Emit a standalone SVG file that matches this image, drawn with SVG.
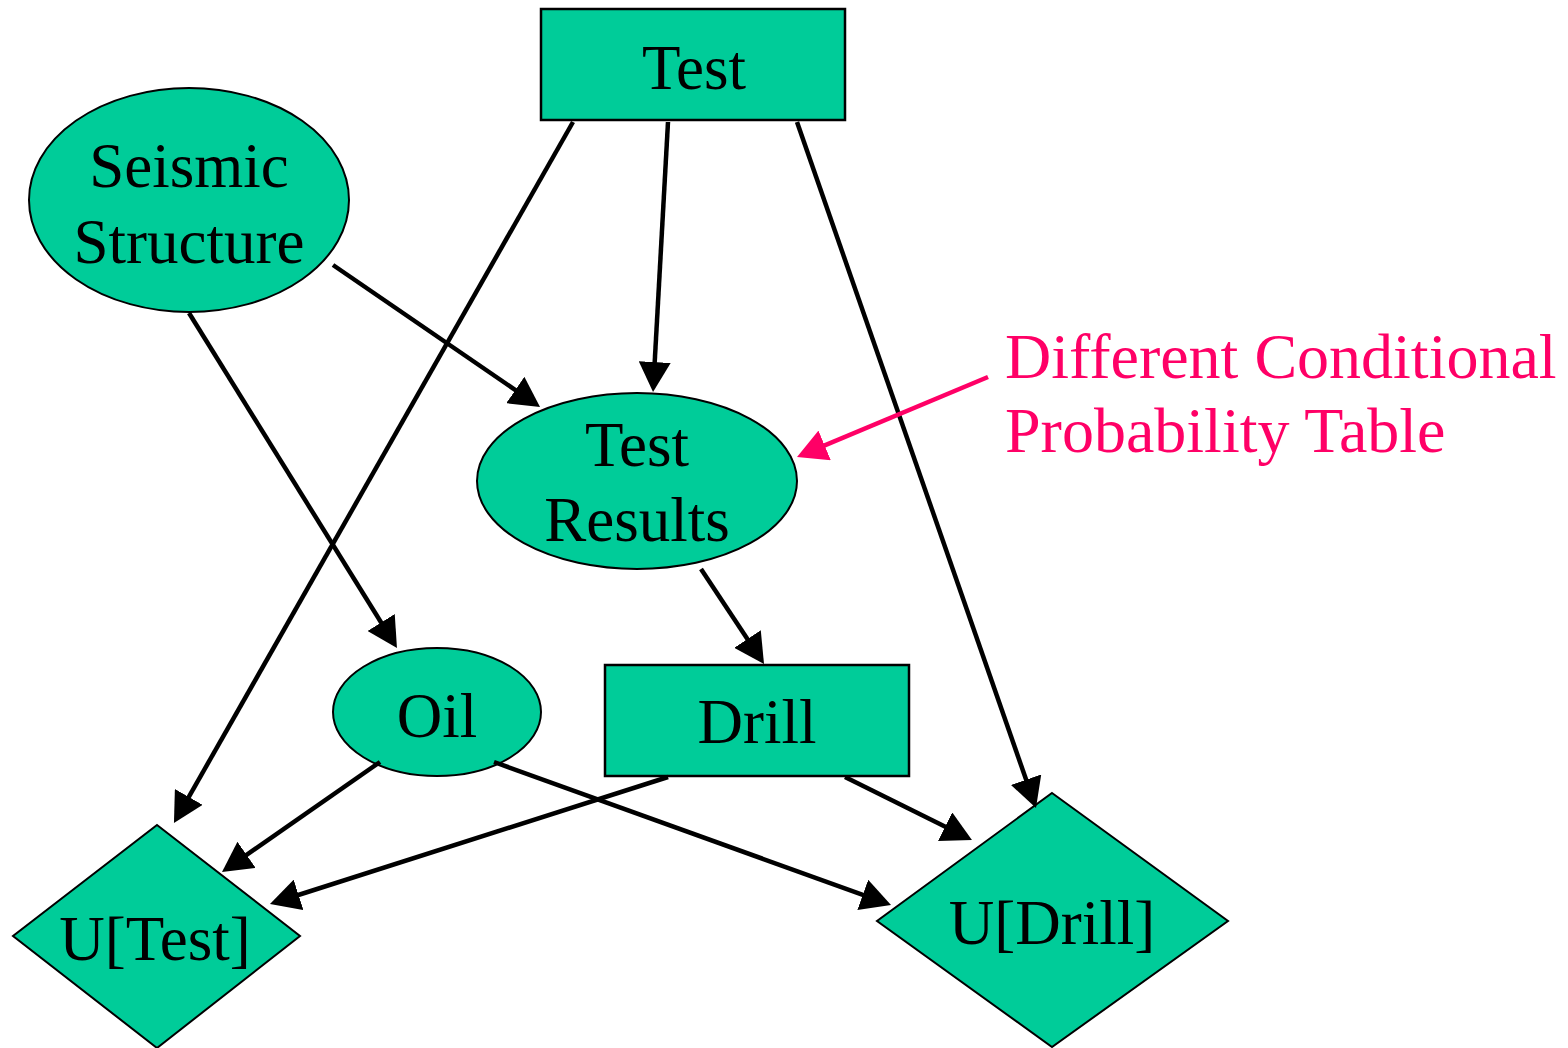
<svg xmlns="http://www.w3.org/2000/svg" width="1568" height="1048" viewBox="0 0 1568 1048">
<style>
.node{fill:#00CC99;stroke:#000;stroke-width:2}
.box{stroke-width:2.5}
.lbl{font-family:"Liberation Serif","Times New Roman",serif;font-size:63px;fill:#000;text-anchor:middle}
.note{font-family:"Liberation Serif","Times New Roman",serif;font-size:64px;fill:#FF0066}
.edge{stroke:#000;stroke-width:4.5;fill:none;marker-end:url(#ah)}
.pink{stroke:#FF0066;stroke-width:4.5;fill:none;marker-end:url(#ahp)}
</style>
<defs>
<marker id="ah" markerUnits="userSpaceOnUse" viewBox="0 0 30 32" markerWidth="30" markerHeight="32" refX="20" refY="16" orient="auto"><path d="M0,0 L30,16 L0,32 z" fill="#000"/></marker>
<marker id="ahp" markerUnits="userSpaceOnUse" viewBox="0 0 30 32" markerWidth="30" markerHeight="32" refX="20" refY="16" orient="auto"><path d="M0,0 L30,16 L0,32 z" fill="#FF0066"/></marker>
</defs>
<rect width="1568" height="1048" fill="#fff"/>
<g id="n-test"><rect class="node box" x="541" y="9" width="304" height="111"/><text class="lbl" x="694" y="89">Test</text></g>
<g id="n-seismic"><ellipse class="node" cx="189" cy="200" rx="160" ry="112"/><text class="lbl" x="189" y="187">Seismic</text><text class="lbl" x="189" y="263">Structure</text></g>
<g id="n-results"><ellipse class="node" cx="637" cy="481" rx="160" ry="88"/><text class="lbl" x="637" y="466">Test</text><text class="lbl" x="637" y="541">Results</text></g>
<g id="n-oil"><ellipse class="node" cx="437" cy="712" rx="104" ry="64"/><text class="lbl" x="437" y="737">Oil</text></g>
<g id="n-drill"><rect class="node box" x="605" y="665" width="304" height="111"/><text class="lbl" x="757" y="743">Drill</text></g>
<g id="n-utest"><polygon class="node" points="157,825 300,936 157,1048 13,936"/><text class="lbl" x="155" y="960">U[Test]</text></g>
<g id="n-udrill"><polygon class="node" points="1052,793 1228,921 1052,1047 877,921"/><text class="lbl" x="1052" y="944">U[Drill]</text></g>
<g id="connectors">
<line class="edge" x1="573" y1="122" x2="178.9" y2="814.3"/>
<line class="edge" x1="668" y1="122" x2="653.6" y2="382"/>
<line class="edge" x1="797" y1="122" x2="1032.7" y2="798.6"/>
<line class="edge" x1="333" y1="265" x2="531.8" y2="401.3"/>
<line class="edge" x1="189" y1="313" x2="391.7" y2="639.5"/>
<line class="edge" x1="701" y1="569" x2="758.5" y2="655.7"/>
<line class="edge" x1="380" y1="762" x2="230.2" y2="866.3"/>
<line class="edge" x1="494" y1="762" x2="881.6" y2="901.6"/>
<line class="edge" x1="668" y1="777" x2="279.5" y2="901"/>
<line class="edge" x1="845" y1="777" x2="963" y2="835.6"/>
<line class="pink" x1="988" y1="377" x2="806.2" y2="453.1"/>
</g>
<g id="note"><text class="note" x="1005" y="378">Different Conditional</text><text class="note" x="1005" y="452">Probability Table</text></g>
</svg>
